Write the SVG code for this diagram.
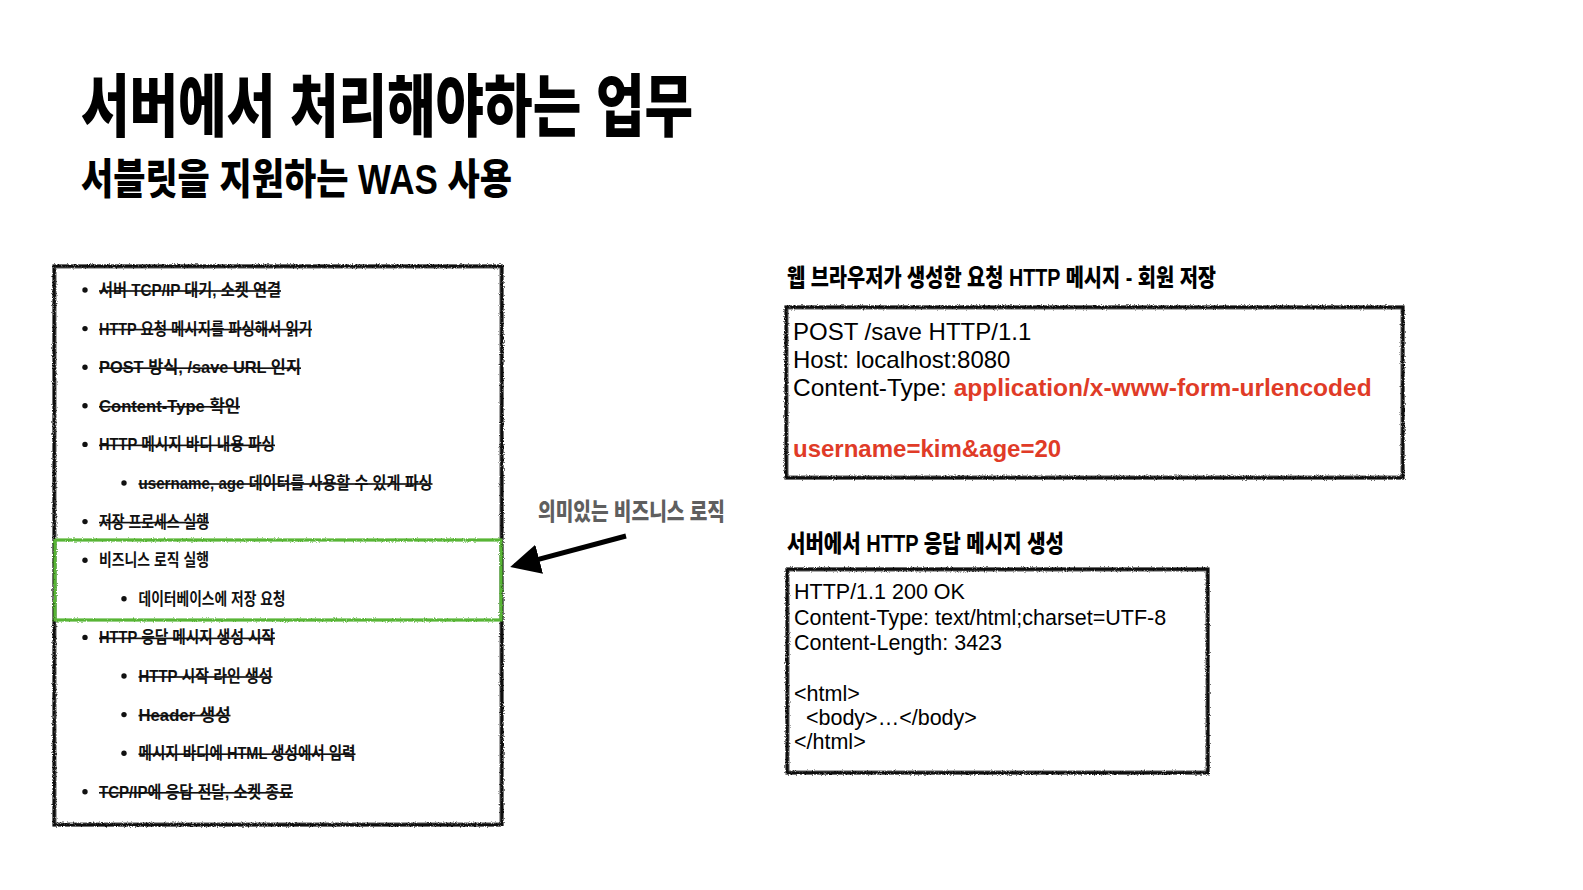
<svg xmlns="http://www.w3.org/2000/svg" width="1583" height="890" viewBox="0 0 1583 890">
<style>
.ko{font-family:"Liberation Sans","Noto Sans CJK KR",sans-serif;font-weight:900;fill:#000}
.li{font-family:"Liberation Sans","Noto Sans CJK KR",sans-serif;font-weight:700;font-size:16.5px;fill:#111}
.st{text-decoration:line-through}
.mono{font-family:"Liberation Sans",Arial,sans-serif;fill:#000}
.red{fill:#E03B27;font-weight:700}
.rough{fill:none;stroke:#111;stroke-width:3.2;filter:url(#rough)}
.roughg{fill:none;stroke:#58B536;stroke-width:3.2;filter:url(#rough)}
.bul{fill:#111}
</style>
<defs>
<filter id="rough" x="-3%" y="-3%" width="106%" height="106%">
<feTurbulence type="fractalNoise" baseFrequency="0.9" numOctaves="2" seed="3" result="n"/>
<feDisplacementMap in="SourceGraphic" in2="n" scale="3" xChannelSelector="R" yChannelSelector="G"/>
</filter>
<marker id="ah" markerWidth="6" markerHeight="6" refX="5" refY="3" orient="auto" markerUnits="strokeWidth">
<path d="M0,0 L6,3 L0,6 Z" fill="#000"/>
</marker>
</defs>
<rect width="1583" height="890" fill="#fff"/>

<g id="title">
<text class="ko" x="81" y="131" font-size="68" textLength="612" lengthAdjust="spacingAndGlyphs">서버에서 처리해야하는 업무</text>
<text class="ko" x="81" y="194" font-size="42" textLength="431" lengthAdjust="spacingAndGlyphs">서블릿을 지원하는 WAS 사용</text>
</g>

<g id="server-tasks">
<rect class="rough" x="54" y="266" width="448" height="559"/>
<rect class="rough" x="55" y="267" width="446" height="557" stroke-width="1.5" opacity="0.6"/>
<g class="bul">
<circle cx="85" cy="290" r="2.7"/><circle cx="85" cy="328.6" r="2.7"/><circle cx="85" cy="367.2" r="2.7"/>
<circle cx="85" cy="405.8" r="2.7"/><circle cx="85" cy="444.4" r="2.7"/><circle cx="124" cy="483" r="2.7"/>
<circle cx="85" cy="521.6" r="2.7"/><circle cx="85" cy="560.2" r="2.7"/><circle cx="124" cy="598.8" r="2.7"/>
<circle cx="85" cy="637.4" r="2.7"/><circle cx="124" cy="676" r="2.7"/><circle cx="124" cy="714.6" r="2.7"/>
<circle cx="124" cy="753.2" r="2.7"/><circle cx="85" cy="791.8" r="2.7"/>
</g>
<text class="li st" x="99" y="296" textLength="182" lengthAdjust="spacingAndGlyphs">서버 TCP/IP 대기, 소켓 연결</text>
<text class="li st" x="99" y="334.6" textLength="213" lengthAdjust="spacingAndGlyphs">HTTP 요청 메시지를 파싱해서 읽기</text>
<text class="li st" x="99" y="373.2" textLength="202" lengthAdjust="spacingAndGlyphs">POST 방식, /save URL 인지</text>
<text class="li st" x="99" y="411.8" textLength="141" lengthAdjust="spacingAndGlyphs">Content-Type 확인</text>
<text class="li st" x="99" y="450.4" textLength="176" lengthAdjust="spacingAndGlyphs">HTTP 메시지 바디 내용 파싱</text>
<text class="li st" x="138.5" y="489" textLength="294" lengthAdjust="spacingAndGlyphs">username, age 데이터를 사용할 수 있게 파싱</text>
<text class="li st" x="99" y="527.6" textLength="110" lengthAdjust="spacingAndGlyphs">저장 프로세스 실행</text>
<text class="li" x="99" y="566.2" textLength="110" lengthAdjust="spacingAndGlyphs">비즈니스 로직 실행</text>
<text class="li" x="138.5" y="604.8" textLength="147" lengthAdjust="spacingAndGlyphs">데이터베이스에 저장 요청</text>
<text class="li st" x="99" y="643.4" textLength="176" lengthAdjust="spacingAndGlyphs">HTTP 응답 메시지 생성 시작</text>
<text class="li st" x="138.5" y="682" textLength="134" lengthAdjust="spacingAndGlyphs">HTTP 시작 라인 생성</text>
<text class="li st" x="138.5" y="720.6" textLength="92" lengthAdjust="spacingAndGlyphs">Header 생성</text>
<text class="li st" x="138.5" y="759.2" textLength="217" lengthAdjust="spacingAndGlyphs">메시지 바디에 HTML 생성에서 입력</text>
<text class="li st" x="99" y="797.8" textLength="194" lengthAdjust="spacingAndGlyphs">TCP/IP에 응답 전달, 소켓 종료</text>
</g>

<g id="business-logic">
<rect class="roughg" x="55" y="540" width="446" height="80"/>
</g>

<g id="business-label">
<text class="ko" x="538" y="520" font-size="24" style="fill:#5f5f5f" textLength="187" lengthAdjust="spacingAndGlyphs">의미있는 비즈니스 로직</text>
</g>

<g id="connectors">
<line x1="626" y1="536" x2="515" y2="565.7" stroke="#000" stroke-width="5" marker-end="url(#ah)"/>
</g>

<g id="request-message">
<text class="ko" x="787" y="286" font-size="24" textLength="429" lengthAdjust="spacingAndGlyphs">웹 브라우저가 생성한 요청 HTTP 메시지 - 회원 저장</text>
<rect class="rough" x="786" y="307" width="617" height="171"/>
<rect class="rough" x="787" y="308" width="615" height="169" stroke-width="1.5" opacity="0.6"/>
<text class="mono" font-size="24" x="793" y="340">POST /save HTTP/1.1</text>
<text class="mono" font-size="24" x="793" y="368">Host: localhost:8080</text>
<text class="mono" font-size="24.5" x="793" y="396">Content-Type: <tspan class="red">application/x-www-form-urlencoded</tspan></text>
<text class="mono red" font-size="24" x="793" y="457">username=kim&amp;age=20</text>
</g>

<g id="response-message">
<text class="ko" x="787" y="552" font-size="24" textLength="277" lengthAdjust="spacingAndGlyphs">서버에서 HTTP 응답 메시지 생성</text>
<rect class="rough" x="787" y="569" width="421" height="204"/>
<rect class="rough" x="788" y="570" width="419" height="202" stroke-width="1.5" opacity="0.6"/>
<text class="mono" font-size="21.5" x="794" y="599">HTTP/1.1 200 OK</text>
<text class="mono" font-size="21.5" x="794" y="624.5">Content-Type: text/html;charset=UTF-8</text>
<text class="mono" font-size="21.5" x="794" y="650">Content-Length: 3423</text>
<text class="mono" font-size="21.5" x="794" y="701">&lt;html&gt;</text>
<text class="mono" font-size="21.5" x="794" y="725" xml:space="preserve">  &lt;body&gt;…&lt;/body&gt;</text>
<text class="mono" font-size="21.5" x="794" y="749">&lt;/html&gt;</text>
</g>
</svg>
